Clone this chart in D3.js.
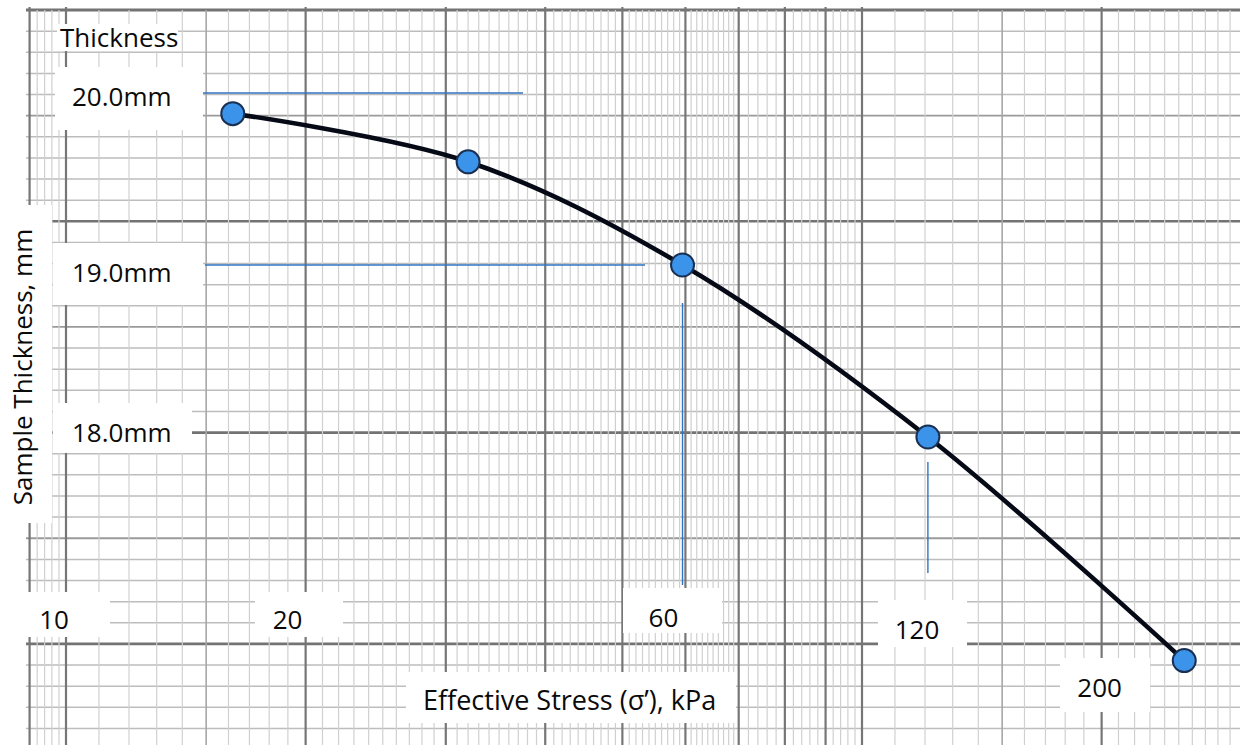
<!DOCTYPE html>
<html>
<head>
<meta charset="utf-8">
<script src="https://cdn.jsdelivr.net/npm/d3@7"></script>
<style>
  html, body { margin: 0; padding: 0; background: #fff; }
  svg { display: block; font-family: "Open Sans", sans-serif; }
</style>
</head>
<body>
<div id="chart"></div>
<script>
// values
const stress = [16.2, 32, 59.5, 121, 254];          // kPa
const thickness = [19.88, 19.6, 19.0, 18.0, 16.7];  // mm

// labels written on the graph paper
const yTickValues = [20.0, 19.0, 18.0];
const yTickLabels = ['20.0mm', '19.0mm', '18.0mm'];
const xTickValues = [10, 20, 60, 120, 200];
const xTickLabels = ['10', '20', '60', '120', '200'];

// blue guide lines (value they mark)
const guideThickness = [20.0, 19.0];
const guideStress = [59.5, 121];

// hand placed layout (pixels)
const yLabelBase = [106, 282, 442];
const xLabelDx = [-12, -18, -22, -8, -2];
const xLabelBase = [629, 629, 627, 639, 697];
const guideHExtent = [[203, 523], [205, 645]];
const guideVExtent = [[303, 585], [462, 573]];
const whiteBoxes = [
  [57, 24, 121, 27],    // Thickness
  [55, 67, 148, 63],    // 20.0mm
  [53, 243, 150, 62],   // 19.0mm
  [53, 403, 139, 50],   // 18.0mm
  [0, 205, 52, 318],    // y title
  [22, 592, 88, 45],    // 10
  [255, 592, 88, 45],   // 20
  [623, 588, 99, 45],   // 60
  [878, 600, 89, 47],   // 120
  [1060, 658, 90, 54],  // 200
  [406, 672, 330, 51]   // x title
];

const width = 1240, height = 745;

const svg = d3.select('#chart')
  .append('svg')
  .attr('width', width)
  .attr('height', height);

// scales
const x = d3.scaleLog().domain([10, 100]).range([66, 862]);
const y = d3.scaleLinear().domain([18, 20]).range([437, 93]);
// graph paper rows, one unit = one small square
const paperY = d3.scaleLinear().domain([0, 10]).range([10, 221.3]);

// semi-log paper: vertical lines
const vLines = [].concat(
  d3.range(9, 9.99, 0.2),
  d3.range(10, 70, 1),
  d3.range(70, 100, 2),
  d3.range(100, 310, 10)
);
function lineKind(v) {
  const dec = Math.pow(10, Math.floor(Math.log10(v + 1e-9)));
  const m = v / dec;
  if (Math.abs(m - Math.round(m)) < 1e-6) return 'major';
  if (Math.abs(m - 1.5) < 1e-6) return 'medium';
  return 'minor';
}
const style = {
  minor: { stroke: '#d0d0d0', w: 1.2 },
  medium: { stroke: '#a6a6a6', w: 1.6 },
  major: { stroke: '#767676', w: 2.2 }
};

const grid = svg.append('g');

const hLines = d3.range(0, 36);
grid.selectAll('line.h')
  .data(hLines)
  .join('line')
  .attr('class', 'h')
  .attr('x1', 26).attr('x2', width)
  .attr('y1', d => paperY(d)).attr('y2', d => paperY(d))
  .attr('stroke', d => d % 10 === 0 ? '#737373' : d % 5 === 0 ? '#9a9a9a' : '#bdbdbd')
  .attr('stroke-width', d => d === 0 ? 3 : d % 10 === 0 ? 2.6 : d % 5 === 0 ? 1.8 : 1.5);

grid.selectAll('line.v')
  .data(vLines.filter(v => x(v) > 26))
  .join('line')
  .attr('class', 'v')
  .attr('x1', d => x(d)).attr('x2', d => x(d))
  .attr('y1', d => lineKind(d) === 'major' ? 7 : 10)
  .attr('y2', height)
  .attr('stroke', d => style[lineKind(d)].stroke)
  .attr('stroke-width', d => style[lineKind(d)].w);

// white label boxes
svg.append('g')
  .selectAll('rect')
  .data(whiteBoxes)
  .join('rect')
  .attr('x', d => d[0]).attr('y', d => d[1])
  .attr('width', d => d[2]).attr('height', d => d[3])
  .attr('fill', '#fff');

// blue guide lines
svg.append('g')
  .selectAll('line')
  .data(guideThickness)
  .join('line')
  .attr('x1', (d, i) => guideHExtent[i][0]).attr('x2', (d, i) => guideHExtent[i][1])
  .attr('y1', d => y(d)).attr('y2', d => y(d))
  .attr('stroke', '#2e74c0').attr('stroke-width', 1.4);

svg.append('g')
  .selectAll('line')
  .data(guideStress)
  .join('line')
  .attr('x1', d => x(d)).attr('x2', d => x(d))
  .attr('y1', (d, i) => guideVExtent[i][0]).attr('y2', (d, i) => guideVExtent[i][1])
  .attr('stroke', '#2e74c0').attr('stroke-width', 1.4);

// curve
const points = stress.map((s, i) => [s, thickness[i]]);
const line = d3.line()
  .x(d => x(d[0]))
  .y(d => y(d[1]))
  .curve(d3.curveCatmullRom.alpha(0.5));

svg.append('path')
  .datum(points)
  .attr('d', line)
  .attr('fill', 'none')
  .attr('stroke', '#050a16')
  .attr('stroke-width', 4.6);

svg.append('g')
  .selectAll('circle')
  .data(points)
  .join('circle')
  .attr('cx', d => x(d[0]))
  .attr('cy', d => y(d[1]))
  .attr('r', 11.5)
  .attr('fill', '#3c93ea')
  .attr('stroke', '#1a3052')
  .attr('stroke-width', 2);

// text
const text = svg.append('g')
  .attr('fill', '#0a0a0a')
  .style('font-size', '26px');

text.append('text')
  .attr('x', 60).attr('y', 47)
  .text('Thickness');

text.selectAll('text.ylab')
  .data(yTickValues)
  .join('text')
  .attr('class', 'ylab')
  .attr('x', 72)
  .attr('y', (d, i) => yLabelBase[i])
  .text((d, i) => yTickLabels[i]);

text.selectAll('text.xlab')
  .data(xTickValues)
  .join('text')
  .attr('class', 'xlab')
  .attr('text-anchor', 'middle')
  .attr('x', (d, i) => x(d) + xLabelDx[i])
  .attr('y', (d, i) => xLabelBase[i])
  .text((d, i) => xTickLabels[i]);

text.append('text')
  .attr('transform', 'translate(32,367) rotate(-90)')
  .attr('text-anchor', 'middle')
  .text('Sample Thickness, mm');

text.append('text')
  .attr('x', 423).attr('y', 710)
  .style('font-size', '27px')
  .text('Effective Stress (σ’), kPa');
</script>
</body>
</html>
